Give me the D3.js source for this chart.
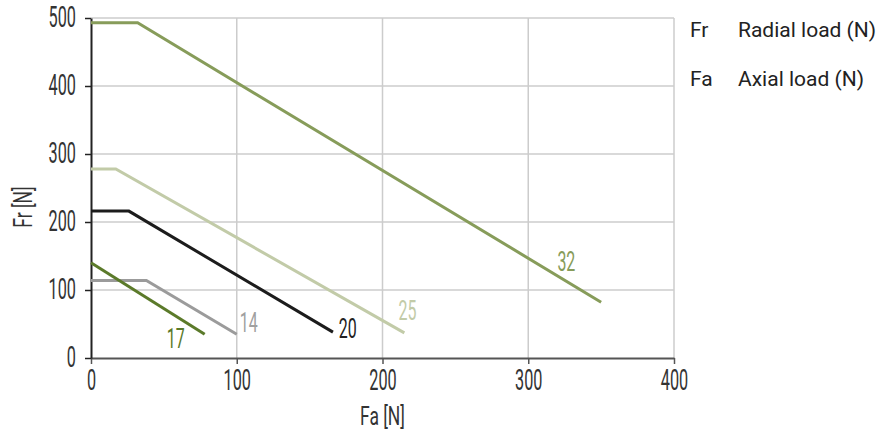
<!DOCTYPE html>
<html>
<head>
<meta charset="utf-8">
<script src="https://cdn.jsdelivr.net/npm/d3@7"></script>
<style>
  html, body { margin: 0; padding: 0; background: #fff; }
  svg { display: block; }
</style>
</head>
<body>
<svg id="chart" width="879" height="434"></svg>
<script>
// ---- data ----
const seriesNames = ["32", "25", "20", "14", "17"];
const seriesFa = [
  [0, 32, 350],
  [0, 17, 215],
  [0, 26, 166],
  [0, 38, 100],
  [0, 78]
];
const seriesFr = [
  [493, 493, 82],
  [278, 278, 37],
  [216, 216, 38],
  [114, 114, 35],
  [140, 35]
];
const seriesColors = ["#879c5a", "#c2cba8", "#1c1c1c", "#9b9b9b", "#5b7a2a"];
const labelColors = ["#879c5a", "#c2cba8", "#222222", "#a0a0a0", "#5b7a2a"];
// label anchor positions in data units (Fa, Fr)
const labelFa = [320, 211, 170, 102, 52];
const labelFr = [128, 56, 30, 38, 14];
const xTicks = [0, 100, 200, 300, 400];
const yTicks = [0, 100, 200, 300, 400, 500];
const legendKeys = ["Fr", "Fa"];
const legendTexts = ["Radial load (N)", "Axial load (N)"];

const svg = d3.select("#chart");
const x = d3.scaleLinear().domain([0, 400]).range([91, 674]);
const y = d3.scaleLinear().domain([0, 500]).range([358, 18]);
const condFont = "Roboto, sans-serif";
const SX = 0.56;

// grid
const grid = svg.append("g");
grid.selectAll("line.h").data(yTicks.filter(d => d > 0)).join("line")
  .attr("x1", x(0)).attr("x2", x(400))
  .attr("y1", d => y(d)).attr("y2", d => y(d))
  .attr("stroke", "#cccccc").attr("stroke-width", 1.5);
grid.selectAll("line.v").data(xTicks.filter(d => d > 0)).join("line")
  .attr("x1", d => x(d)).attr("x2", d => x(d))
  .attr("y1", y(0)).attr("y2", y(500))
  .attr("stroke", "#cccccc").attr("stroke-width", 1.5);

// axes
const xAxis = svg.append("g").attr("transform", `translate(0,${y(0)})`)
  .call(d3.axisBottom(x).tickValues(xTicks).tickSize(6).tickSizeOuter(0).tickPadding(0));
xAxis.select(".domain").attr("stroke", "#555").attr("stroke-width", 2);
xAxis.selectAll(".tick line").attr("stroke", "#555").attr("stroke-width", 1.5);
xAxis.selectAll(".tick text")
  .attr("font-family", condFont).attr("font-weight", 400).attr("font-size", 29).attr("fill", "#333")
  .attr("y", 0).attr("dy", 0)
  .attr("transform", `translate(0,32) scale(${SX},1)`);

const yAxis = svg.append("g").attr("transform", `translate(${x(0)},0)`)
  .call(d3.axisLeft(y).tickValues(yTicks).tickSize(6).tickSizeOuter(0).tickPadding(0));
yAxis.select(".domain").attr("stroke", "#222").attr("stroke-width", 2);
yAxis.selectAll(".tick line").attr("stroke", "#222").attr("stroke-width", 1.5);
yAxis.selectAll(".tick text")
  .attr("font-family", condFont).attr("font-weight", 400).attr("font-size", 29).attr("fill", "#333")
  .attr("x", 0).attr("dy", 0)
  .attr("transform", `translate(-15,8) scale(${SX},1)`);

// axis titles
svg.append("text")
  .attr("transform", `translate(${(x(0) + x(400)) / 2},425) scale(0.7,1)`)
  .attr("text-anchor", "middle")
  .attr("font-family", condFont).attr("font-weight", 400).attr("font-size", 25).attr("fill", "#333")
  .text("Fa [N]");
svg.append("text")
  .attr("transform", `translate(32,207) rotate(-90) scale(0.7,1)`)
  .attr("text-anchor", "middle")
  .attr("font-family", condFont).attr("font-weight", 400).attr("font-size", 25).attr("fill", "#333")
  .text("Fr [N]");

// series lines
const line = d3.line().x(d => x(d[0])).y(d => y(d[1]));
seriesNames.forEach((name, i) => {
  const pts = seriesFa[i].map((fa, j) => [fa, seriesFr[i][j]]);
  svg.append("path").datum(pts)
    .attr("d", line)
    .attr("fill", "none")
    .attr("stroke", seriesColors[i])
    .attr("stroke-width", 3)
    .attr("stroke-linejoin", "miter");
  svg.append("text")
    .attr("transform", `translate(${x(labelFa[i])},${y(labelFr[i])}) scale(0.57,1)`)
    .attr("font-family", condFont).attr("font-weight", 400).attr("font-size", 28)
    .attr("fill", labelColors[i])
    .text(name);
});

// legend
legendKeys.forEach((k, i) => {
  const yy = 37 + i * 49;
  svg.append("text").attr("x", 690).attr("y", yy)
    .attr("font-family", "Roboto, sans-serif").attr("font-size", 21).attr("fill", "#222")
    .text(k);
  svg.append("text").attr("x", 738).attr("y", yy)
    .attr("font-family", "Roboto, sans-serif").attr("font-size", 21).attr("fill", "#222")
    .text(legendTexts[i]);
});
</script>
</body>
</html>
